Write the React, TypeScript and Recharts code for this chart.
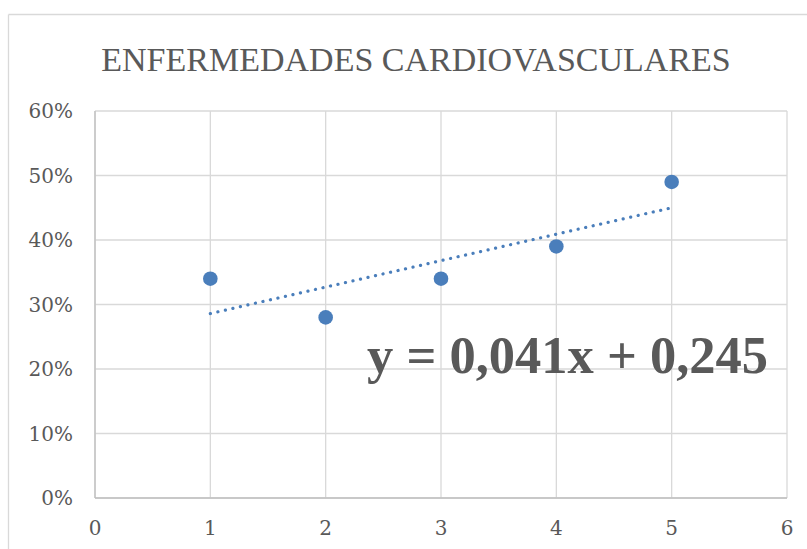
import React from "react";
import { ComposedChart, Scatter, XAxis, YAxis, CartesianGrid, ReferenceLine } from "recharts";

const xValues = [1, 2, 3, 4, 5];
const yValues = [0.34, 0.28, 0.34, 0.39, 0.49];
const trendX = [1, 5];
const trendY = [0.286, 0.45];
const xTicks = [0, 1, 2, 3, 4, 5, 6];
const yTicks = [0, 0.1, 0.2, 0.3, 0.4, 0.5, 0.6];
const title = "ENFERMEDADES CARDIOVASCULARES";
const equation = "y = 0,041x + 0,245";

const points = xValues.map((x, i) => ({ x, y: yValues[i] }));

const FONT = "'DejaVu Serif', 'Liberation Serif', serif";
const FONT2 = "'Liberation Serif', 'DejaVu Serif', serif";
const TEXT = "#595959";
const BLUE = "#4a7ebb";

export default function App() {
  return (
    <div style={{ position: "absolute", left: 0, top: 0, width: 807, height: 549, background: "#fff" }}>
      <ComposedChart width={807} height={549} data={points} margin={{ top: 111, right: 20, bottom: 0, left: 0 }}>
        <CartesianGrid stroke="#d9d9d9" strokeWidth={1.3} horizontal vertical />
        <XAxis
          type="number"
          dataKey="x"
          domain={[0, 6]}
          ticks={xTicks}
          height={51}
          tickSize={0}
          tickMargin={23}
          axisLine={{ stroke: "#bfbfbf", strokeWidth: 1.3 }}
          tick={{ fill: TEXT, fontSize: 20, fontFamily: FONT }}
        />
        <YAxis
          type="number"
          dataKey="y"
          domain={[0, 0.6]}
          ticks={yTicks}
          width={95}
          tickSize={0}
          tickMargin={22}
          axisLine={{ stroke: "#bfbfbf", strokeWidth: 1.3 }}
          tickFormatter={(v: number) => `${Math.round(v * 100)}%`}
          tick={{ fill: TEXT, fontSize: 20, fontFamily: FONT }}
        />
        <ReferenceLine
          segment={[{ x: trendX[0], y: trendY[0] }, { x: trendX[1], y: trendY[1] }]}
          stroke={BLUE}
          strokeWidth={3.2}
          strokeDasharray="0.1 7.6"
          strokeLinecap="round"
          ifOverflow="visible"
        />
        <Scatter
          data={points}
          dataKey="y"
          fill={BLUE}
          isAnimationActive={false}
          shape={(p: any) => <circle cx={p.cx} cy={p.cy} r={7.3} fill={BLUE} />}
        />
      </ComposedChart>
      <svg width={807} height={549} style={{ position: "absolute", left: 0, top: 0, pointerEvents: "none" }}>
        <line x1={8.5} y1={14.5} x2={807} y2={14.5} stroke="#d9d9d9" strokeWidth={1.3} />
        <line x1={8.5} y1={14.5} x2={8.5} y2={549} stroke="#d9d9d9" strokeWidth={1.3} />
        <text x={416} y={71} textAnchor="middle" fontFamily={FONT2} fontSize={34} fill={TEXT}>
          {title}
        </text>
        <text x={367} y={373} fontFamily={FONT2} fontSize={52.5} fontWeight="bold" fill={TEXT}>
          {equation}
        </text>
      </svg>
    </div>
  );
}
